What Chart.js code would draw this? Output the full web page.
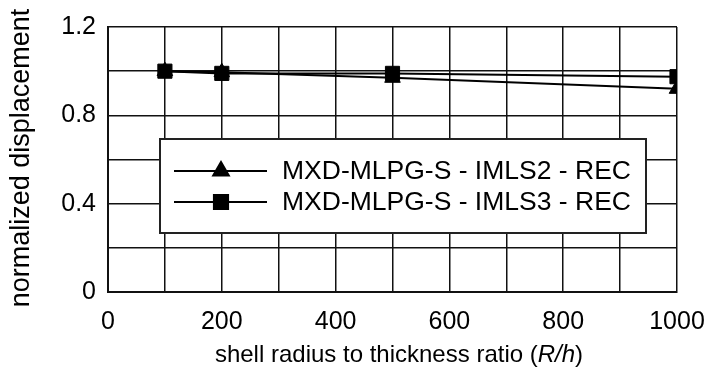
<!DOCTYPE html>
<html>
<head>
<meta charset="utf-8">
<script src="https://cdn.jsdelivr.net/npm/chart.js@4"></script>
<style>
  html, body { margin: 0; padding: 0; background: #fff; }
  #wrap { width: 709px; height: 367px; }
</style>
</head>
<body>
<div id="wrap"><canvas id="chart" width="709" height="367"></canvas></div>
<script>
// R/h values and normalized displacement
const ratios = [100, 200, 500, 1000];
const imls2 = [1.0, 0.995, 0.97, 0.92];
const imls3 = [1.0, 0.99, 0.99, 0.975];
const seriesNames = ['MXD-MLPG-S - IMLS2 - REC', 'MXD-MLPG-S - IMLS3 - REC'];

const FONT = 'Liberation Sans, Arial, sans-serif';

const toPoints = (xs, ys) => xs.map((x, i) => ({ x: x, y: ys[i] }));

// legend box drawn inside the plot, over the grid
const legendBox = {
  id: 'legendBox',
  afterDatasetsDraw(chart) {
    const ctx = chart.ctx;
    const x0 = 160, y0 = 139, w = 486, h = 94;
    ctx.save();
    ctx.fillStyle = '#fff';
    ctx.fillRect(x0, y0, w, h);
    ctx.lineWidth = 2;
    ctx.strokeStyle = '#222';
    ctx.strokeRect(x0, y0, w, h);
    const rows = [171, 202];
    chart.data.datasets.forEach((ds, i) => {
      const y = rows[i];
      ctx.beginPath();
      ctx.moveTo(174, y);
      ctx.lineTo(267, y);
      ctx.lineWidth = 2;
      ctx.strokeStyle = '#000';
      ctx.stroke();
      Chart.helpers.drawPoint(ctx, {
        pointStyle: ds.pointStyle, radius: ds.pointRadius, borderWidth: 1
      }, 221, y);
      ctx.fillStyle = '#000';
      ctx.fill();
      ctx.font = '26.5px ' + FONT;
      ctx.textBaseline = 'middle';
      ctx.textAlign = 'left';
      ctx.fillText(ds.label, 282, y + 1);
    });
    ctx.restore();
  }
};

// axis titles (x title has italic R/h)
const axisTitles = {
  id: 'axisTitles',
  afterDraw(chart) {
    const ctx = chart.ctx;
    ctx.save();
    ctx.fillStyle = '#000';
    ctx.textBaseline = 'middle';
    ctx.font = '27px ' + FONT;
    ctx.translate(22, 158);
    ctx.rotate(-Math.PI / 2);
    ctx.textAlign = 'center';
    ctx.fillText('normalized displacement', 0, 0);
    ctx.restore();

    ctx.save();
    ctx.fillStyle = '#000';
    ctx.textBaseline = 'middle';
    const parts = [
      ['shell radius to thickness ratio (', ''],
      ['R/h', 'italic '],
      [')', '']
    ];
    let total = 0;
    parts.forEach(p => {
      ctx.font = p[1] + '24px ' + FONT;
      total += ctx.measureText(p[0]).width;
    });
    let x = 399 - total / 2;
    parts.forEach(p => {
      ctx.font = p[1] + '24px ' + FONT;
      ctx.textAlign = 'left';
      ctx.fillText(p[0], x, 355);
      x += ctx.measureText(p[0]).width;
    });
    ctx.restore();
  }
};

new Chart(document.getElementById('chart').getContext('2d'), {
  type: 'line',
  data: {
    datasets: [{
      label: seriesNames[0],
      data: toPoints(ratios, imls2),
      borderColor: '#000',
      backgroundColor: '#000',
      borderWidth: 2,
      pointStyle: 'triangle',
      pointRadius: 9,
      pointBorderWidth: 1,
      tension: 0,
      order: 2
    }, {
      label: seriesNames[1],
      data: toPoints(ratios, imls3),
      borderColor: '#000',
      backgroundColor: '#000',
      borderWidth: 2,
      pointStyle: 'rect',
      pointRadius: 10,
      pointBorderWidth: 1,
      tension: 0,
      order: 1
    }]
  },
  options: {
    responsive: false,
    animation: false,
    layout: { padding: { top: 27, right: 32, left: 0, bottom: 0 } },
    plugins: {
      legend: { display: false },
      tooltip: { enabled: false }
    },
    scales: {
      x: {
        type: 'linear',
        min: 0,
        max: 1000,
        afterFit: s => { s.height = 75; s.paddingLeft = 0; s.paddingRight = 0; },
        ticks: {
          stepSize: 100,
          color: '#000',
          font: { family: FONT, size: 25 },
          padding: 15,
          maxRotation: 0,
          autoSkip: false,
          callback: v => (v % 200 === 0 ? String(v) : '')
        },
        grid: { color: '#111', lineWidth: 1.5, drawTicks: false },
        border: { color: '#111', width: 2 }
      },
      y: {
        min: 0,
        max: 1.2,
        afterFit: s => { s.width = 108; s.paddingTop = 0; s.paddingBottom = 0; },
        ticks: {
          stepSize: 0.2,
          color: '#000',
          font: { family: FONT, size: 25 },
          padding: 12,
          autoSkip: false,
          callback: v => {
            const k = Math.round(v * 10);
            return k % 4 === 0 ? (k === 0 ? '0' : (k / 10).toFixed(1)) : '';
          }
        },
        grid: { color: '#111', lineWidth: 1.5, drawTicks: false },
        border: { color: '#111', width: 2 }
      }
    }
  },
  plugins: [legendBox, axisTitles]
});
</script>
</body>
</html>
